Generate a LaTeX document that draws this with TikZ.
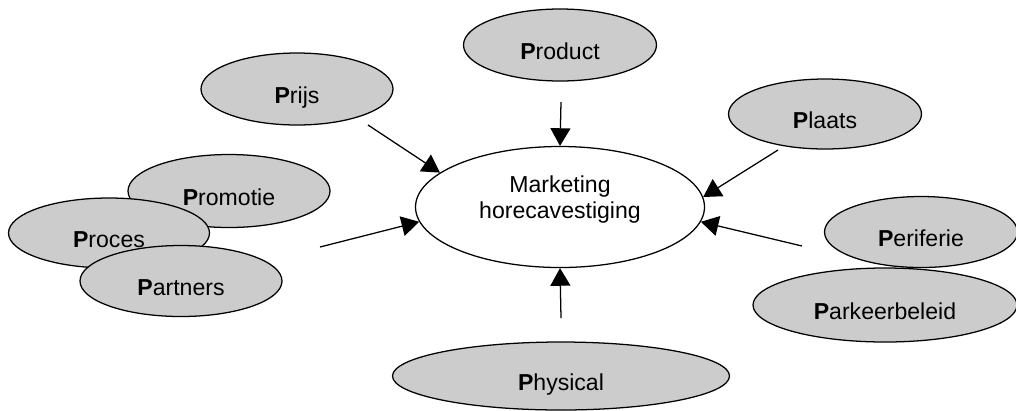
\documentclass[tikz,border=0pt]{standalone}
\usepackage{fontspec}
\setmainfont{Liberation Sans}
\usepackage{xcolor}
\usepackage{tikz}
\usetikzlibrary{arrows, arrows.meta}
\usetikzlibrary{shapes.geometric}
\definecolor{pgray}{gray}{0.8}
\newlength{\pxu}
\setlength{\pxu}{0.025cm}

\begin{document}
\begin{tikzpicture}[x=0.025cm, y=-0.025cm, line width=0.9pt,
		every node/.style={ellipse, draw, inner sep=0pt, font=\fontsize{16.4}{18.5}\selectfont},
		pball/.style={fill=pgray, text height=23.8pt, text depth=2.5pt},
		pijl/.style={-{Triangle[length=4.4mm, width=5mm]}}]
			\useasboundingbox (0,0) rectangle (1016,410);
			\node[fill=white, align=center, minimum width=289\pxu, minimum height=121\pxu](mkt) at (560,207){Marketing\\horecavestiging\rule[-13.4pt]{0pt}{1pt}};
			\foreach \name/\x/\y/\w/\h/\txt in {prod/560/45/193/72/\textbf{P}roduct, prijs/297/89/192/72/\textbf{P}rijs, plaats/825/114/193/70/\textbf{P}laats, promotie/229/191/202/73/\textbf{P}romotie, proces/109/233/201/70/\textbf{P}roces, partners/181/281/202/71/\textbf{P}artners, periferie/921/232/193/71/\textbf{P}eriferie, parkeer/885/305/264/74/\textbf{P}arkeerbeleid, physical/561/376/337/68/\textbf{P}hysical}
			{
				\node[pball, minimum width=\w\pxu, minimum height=\h\pxu](\name) at (\x,\y){\txt};
			}
			\foreach \cname/\x/\y in {vanprijs/368/125, vanprod/561/102, vanplaats/778/150, vanlinks/320/247, vanrechts/802/246, vanphys/561/318}
			{
				\coordinate(\cname) at (\x,\y);
			}
			\foreach \cname/\hoek in {vanprijs/164, vanprod/90, vanplaats/4, vanlinks/186, vanrechts/354, vanphys/270}
			{
				\draw[pijl] (\cname) -- (mkt.\hoek);
			}
		\end{tikzpicture}
\end{document}
